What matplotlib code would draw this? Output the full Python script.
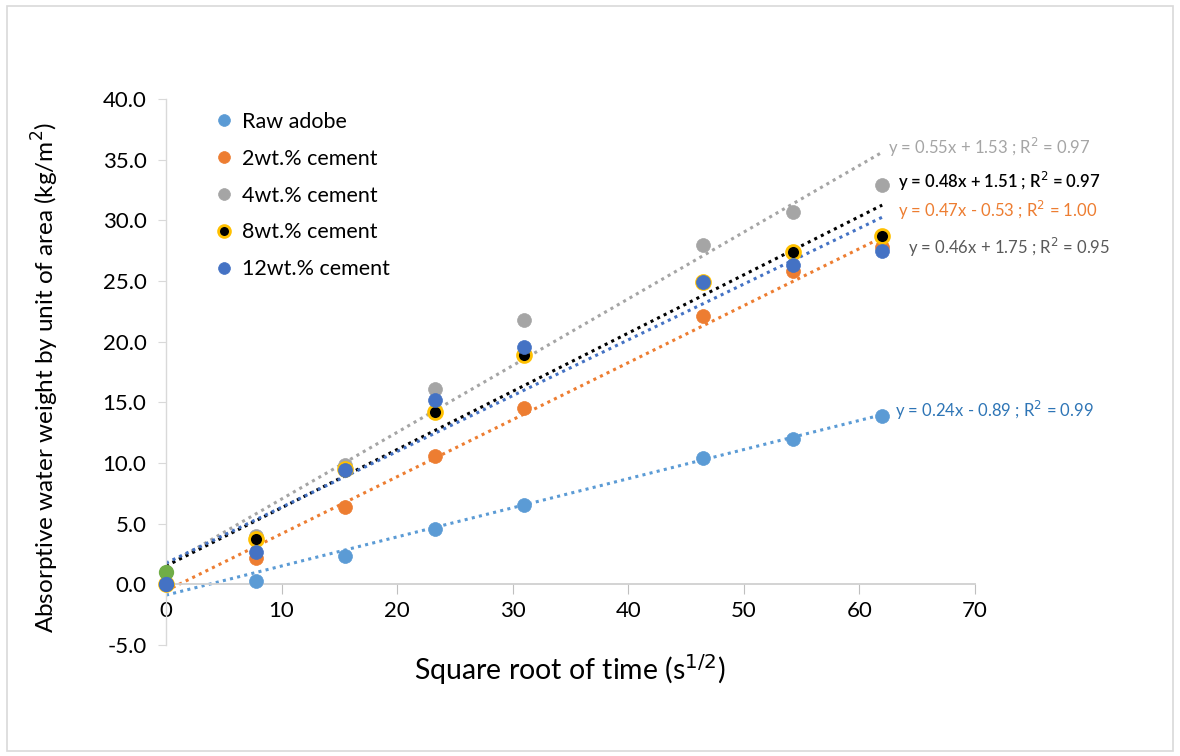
import matplotlib.pyplot as plt
import matplotlib.ticker as mticker
import numpy as np
from matplotlib.patches import Rectangle

plt.rcParams["font.family"] = ["Lato", "DejaVu Sans"]

# square root of time (s^1/2)
sqrt_time = [0, 7.75, 15.49, 23.24, 30.98, 46.48, 54.22, 61.97]

raw_adobe = [0, 0.3, 2.3, 4.6, 6.5, 10.45, 12.0, 13.9]
cement_2 = [0, 2.2, 6.4, 10.6, 14.5, 22.1, 25.8, 27.8]
cement_4 = [0, 4.0, 9.8, 16.1, 21.8, 28.0, 30.7, 32.9]
cement_8 = [0, 3.7, 9.5, 14.2, 18.9, 24.9, 27.4, 28.7]
cement_12 = [0, 2.7, 9.4, 15.2, 19.6, 24.9, 26.3, 27.5]

# stray point at the origin (no legend entry)
extra_x = [0]
extra_y = [1.0]

labels = ["Raw adobe", "2wt.% cement", "4wt.% cement", "8wt.% cement", "12wt.% cement"]

# trend lines as printed on the chart: slope, intercept, R^2
slopes = [0.24, 0.47, 0.55, 0.48, 0.46]
intercepts = [-0.89, -0.53, 1.53, 1.51, 1.75]
r_squared = [0.99, 1.00, 0.97, 0.97, 0.95]

fill_colors = ["#5B9BD5", "#ED7D31", "#A5A5A5", "#000000", "#4472C4"]
edge_colors = ["#5B9BD5", "#ED7D31", "#A5A5A5", "#FFC000", "#4472C4"]
line_colors = ["#5B9BD5", "#ED7D31", "#A5A5A5", "#000000", "#4472C4"]
text_colors = ["#2E75B6", "#ED7D31", "#A5A5A5", "#000000", "#595959"]
# label anchor (x data, y data) for each equation
text_pos = [(63.1, 14.3), (63.3, 30.8), (62.5, 36.0), (63.3, 33.2), (64.2, 27.8)]


def equation(slope, intercept, r2):
    sign = "+" if intercept >= 0 else "-"
    return f"y = {slope:.2f}x {sign} {abs(intercept):.2f} ; R$^2$ = {r2:.2f}"


fig = plt.figure(figsize=(11.8, 7.56), dpi=100)
ax = fig.add_axes([166 / 1180, 1 - 645 / 756, 809 / 1180, 546 / 756])

fig.patches.append(Rectangle((7 / 1180, 5 / 756), 1166 / 1180, 745 / 756,
                             transform=fig.transFigure, fill=False,
                             edgecolor="#D9D9D9", linewidth=1.2))

series = [raw_adobe, cement_2, cement_4, cement_8, cement_12]
fit_x = np.array([0, sqrt_time[-1]])

for i, values in enumerate(series):
    ax.plot(fit_x, slopes[i] * fit_x + intercepts[i], linestyle=(0, (1, 1.4)),
            color=line_colors[i], linewidth=2.2, zorder=2)

for i, values in enumerate(series):
    ax.plot(sqrt_time, values, linestyle="none", marker="o", markersize=10,
            markerfacecolor=fill_colors[i], markeredgecolor=edge_colors[i],
            markeredgewidth=2 if i == 3 else 0.5, label=labels[i], clip_on=False, zorder=3)

ax.plot(extra_x, extra_y, linestyle="none", marker="o", markersize=10,
        color="#70AD47", clip_on=False, zorder=3)
# redraw 12wt.% origin on top like the reference
ax.plot(sqrt_time[:1], cement_12[:1], linestyle="none", marker="o", markersize=10,
        color="#4472C4", clip_on=False, zorder=4)

for i in range(len(series)):
    ax.text(text_pos[i][0], text_pos[i][1], equation(slopes[i], intercepts[i], r_squared[i]),
            color=text_colors[i], fontsize=12, va="center", ha="left",
            fontweight="semibold" if i == 3 else "normal")

ax.set_xlim(0, 70)
ax.set_ylim(-5, 40)
ax.xaxis.set_major_locator(mticker.MultipleLocator(10))
ax.yaxis.set_major_locator(mticker.MultipleLocator(5))
ax.yaxis.set_major_formatter(mticker.FormatStrFormatter("%.1f"))

ax.spines["top"].set_visible(False)
ax.spines["right"].set_visible(False)
ax.spines["bottom"].set_position(("data", 0))
ax.spines["bottom"].set_color("#D0D0D0")
ax.spines["left"].set_color("#D9D9D9")
ax.spines["bottom"].set_linewidth(1.3)
ax.spines["left"].set_linewidth(1.0)

ax.tick_params(axis="x", direction="out", length=7, color="#BFBFBF", labelsize=16,
               pad=5, labelcolor="#000000")
ax.tick_params(axis="y", direction="out", length=6, color="#D9D9D9", labelsize=16,
               pad=8, labelcolor="#000000")

fig.text(570 / 1180, 1 - 670 / 756, "Square root of time (s$^{1/2}$)", fontsize=20.5,
         ha="center", va="center")
fig.text(45 / 1180, 1 - 378 / 756, "Absorptive water weight by unit of area (kg/m$^{2}$)",
         fontsize=17.5, ha="center", va="center", rotation=90)

ax.legend(loc="upper left", bbox_to_anchor=(0.051, 0.992), frameon=False, fontsize=15.5,
          handlelength=0.8, handletextpad=0.42, labelspacing=0.78, markerscale=0.85,
          borderaxespad=0)

fig.savefig("out.png", dpi=100)
